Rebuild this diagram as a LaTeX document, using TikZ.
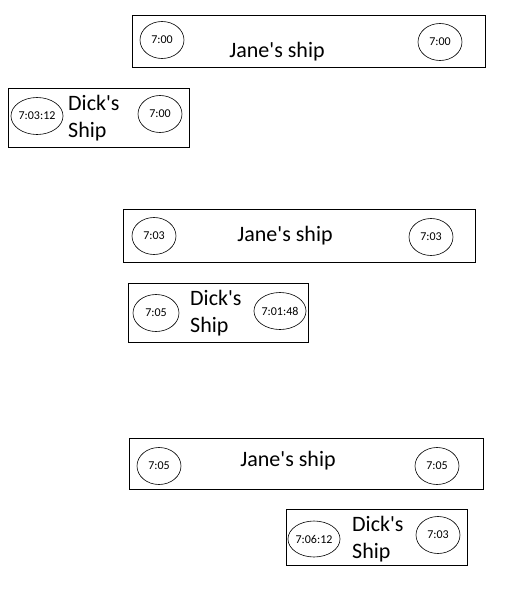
\documentclass[tikz,border=0pt]{standalone}
\usepackage{fontspec}
\setmainfont{Carlito}
\usetikzlibrary{shapes.geometric}
\begin{document}
\begin{tikzpicture}[
    x=1pt, y=-1pt,
    shipbox/.style={draw, line width=.8pt, inner sep=0pt},
    clock/.style={draw, ellipse, line width=.6pt, inner sep=0pt,
        minimum width=44pt, minimum height=37pt,
        font=\fontsize{12}{14}\selectfont},
    shipname/.style={inner sep=0pt, font=\fontsize{22}{27}\selectfont}]
    \useasboundingbox (0,0) rectangle (519,600);
    % first moment
    \node[shipbox, minimum width=353pt, minimum height=52pt] (janeA) at (308.5,41) {};
    \node[clock] (janeAl) at (162,40) {7:00};
    \node[clock] (janeAr) at (440,42) {7:00};
    \node[shipname] (janeAt) at (277,52) {Jane\textquotesingle s ship};
    \node[shipbox, minimum width=181pt, minimum height=59pt] (dickA) at (98.5,117.5) {};
    \node[clock, minimum width=46pt] (dickAl) at (37,116) {7:03:12};
    \node[clock] (dickAr) at (160,114) {7:00};
    \node[shipname, anchor=west, align=left] (dickAt) at (68,118) {Dick\textquotesingle s\\Ship};
    % second moment
    \node[shipbox, minimum width=352pt, minimum height=53pt] (janeB) at (299,235.5) {};
    \node[clock] (janeBl) at (154,236) {7:03};
    \node[clock] (janeBr) at (431,237) {7:03};
    \node[shipname] (janeBt) at (285,236) {Jane\textquotesingle s ship};
    \node[shipbox, minimum width=180pt, minimum height=59pt] (dickB) at (218,312.5) {};
    \node[clock, minimum width=46pt] (dickBl) at (156,313) {7:05};
    \node[clock] (dickBr) at (280,311) {7:01:48};
    \node[shipname, anchor=west, align=left] (dickBt) at (190,313) {Dick\textquotesingle s\\Ship};
    % third moment
    \node[shipbox, minimum width=354pt, minimum height=51pt] (janeC) at (306,463.5) {};
    \node[clock] (janeCl) at (159,466) {7:05};
    \node[clock] (janeCr) at (437,466) {7:05};
    \node[shipname] (janeCt) at (288,461) {Jane\textquotesingle s ship};
    \node[shipbox, minimum width=181pt, minimum height=56pt] (dickC) at (376.5,537) {};
    \node[clock, minimum width=46pt, minimum height=36pt] (dickCl) at (314,539) {7:06:12};
    \node[clock] (dickCr) at (438,535) {7:03};
    \node[shipname, anchor=west, align=left] (dickCt) at (352,539) {Dick\textquotesingle s\\Ship};
\end{tikzpicture}
\end{document}
